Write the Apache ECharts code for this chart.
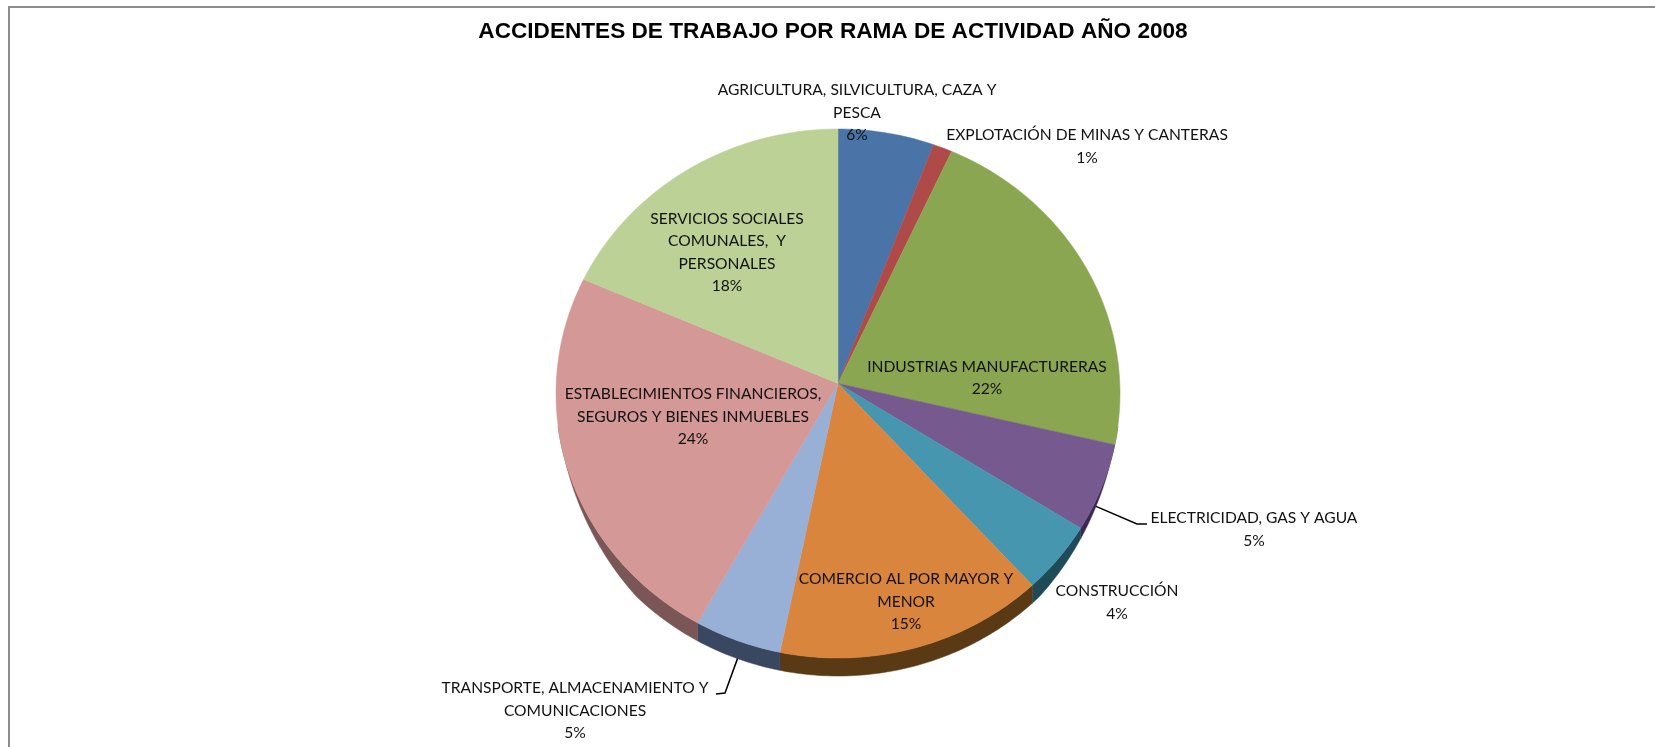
<!DOCTYPE html>
<html lang="es" style="height: 100%">

<head>
  <meta charset="utf-8">
</head>

<body style="height: 100%; margin: 0; background: #fff;">
  <div id="container" style="height: 100%;"></div>

  <script type="text/javascript" src="https://cdn.jsdelivr.net/npm/echarts@6/dist/echarts.min.js"></script>

  <script type="text/javascript">
    var categories = [
      'AGRICULTURA, SILVICULTURA, CAZA Y\nPESCA',
      'EXPLOTACIÓN DE MINAS Y CANTERAS',
      'INDUSTRIAS MANUFACTURERAS',
      'ELECTRICIDAD, GAS Y AGUA',
      'CONSTRUCCIÓN',
      'COMERCIO AL POR MAYOR Y\nMENOR',
      'TRANSPORTE, ALMACENAMIENTO Y\nCOMUNICACIONES',
      'ESTABLECIMIENTOS FINANCIEROS,\nSEGUROS Y BIENES INMUEBLES',
      'SERVICIOS SOCIALES\nCOMUNALES,  Y\nPERSONALES'
    ];
    var shares = [5.5, 1.1, 21.5, 5.4, 4.4, 15.4, 5.0, 23.8, 17.9];

    var faceColors = ['#4a74a8', '#ae4b49', '#8ba651', '#76598f', '#4596ae', '#d9853e', '#98afd6', '#d49897', '#bcd196'];
    var wallColors = ['#2c4565', '#682d2c', '#536331', '#3a2a50', '#1f4a58', '#5a3a14', '#3a4760', '#7a5656', '#70805a'];

    // label centre in page pixels, leader end points where the label sits off the pie
    var labelSpots = [[857, 112.5], [1087, 146.5], [987, 378], [1254, 529.5], [1117, 602.5], [906, 601.5], [575, 710.5], [693, 416.5], [727, 252.5]];
    var leaderEnds = { 3: [[1137, 524], [1147, 524]], 6: [[725, 693], [716, 694]] };
    var leaderAt = { 3: 0.65, 6: 0.5 };

    var wallDepth = 18;
    var apexY = 0.038;

    var dom = document.getElementById('container');
    var myChart = echarts.init(dom, null, {
      renderer: 'canvas',
      useDirtyRect: false
    });

    var starts = [];
    var total = 0;
    shares.forEach(function (v) {
      starts.push(total);
      total += v;
    });

    function arcPoints(api, from, to) {
      var pts = [];
      var n = Math.max(2, Math.ceil((to - from) * 4));
      for (var i = 0; i <= n; i++) {
        var a = (from + (to - from) * i / n) / total * Math.PI * 2;
        var p = api.coord([Math.sin(a), Math.cos(a)]);
        p.push(a);
        pts.push(p);
      }
      return pts;
    }

    // the rim thins out towards the sides of the pie
    function rimDepth(a) {
      var k = (Math.abs(Math.cos(a)) - 0.25) / 0.45;
      return wallDepth * Math.max(0, Math.min(1, k));
    }

    function renderWall(params, api) {
      var from = Math.max(api.value(0), total * 0.27);
      var to = Math.min(api.value(0) + api.value(1), total * 0.73);
      if (to <= from) return null;
      var top = arcPoints(api, from, to);
      var bottom = top.map(function (p) {
        return [p[0], p[1] + rimDepth(p[2])];
      }).reverse();
      return {
        type: 'polygon',
        shape: { points: top.concat(bottom) },
        style: { fill: wallColors[params.dataIndex], stroke: wallColors[params.dataIndex], lineWidth: 0.5 }
      };
    }

    function renderFace(params, api) {
      var from = api.value(0);
      var to = from + api.value(1);
      var pts = arcPoints(api, from, to);
      pts.unshift(api.coord([0, apexY]));
      return {
        type: 'polygon',
        shape: { points: pts },
        style: { fill: faceColors[params.dataIndex], stroke: faceColors[params.dataIndex], lineWidth: 0.5 }
      };
    }

    function renderLabel(params, api) {
      var i = params.dataIndex;
      var from = api.value(0);
      var size = api.value(1);
      var spot = labelSpots[i];
      var children = [{
        type: 'text',
        style: {
          x: spot[0],
          y: spot[1],
          text: categories[i] + '\n' + Math.round(size) + '%',
          align: 'center',
          verticalAlign: 'middle',
          lineHeight: 22.4,
          font: '15.6px Lato',
          fill: '#111'
        }
      }];
      if (leaderEnds[i]) {
        var a = (from + size * leaderAt[i]) / total * Math.PI * 2;
        var rim = api.coord([Math.sin(a), Math.cos(a)]);
        children.push({
          type: 'polyline',
          shape: { points: [[rim[0], rim[1] + rimDepth(a)]].concat(leaderEnds[i]) },
          style: { stroke: '#000', lineWidth: 1.5, fill: null }
        });
      }
      return { type: 'group', children: children };
    }

    var sliceData = shares.map(function (v, i) {
      return [starts[i], v];
    });

    var option = {
      animation: false,
      title: {
        text: 'ACCIDENTES DE TRABAJO POR RAMA DE ACTIVIDAD AÑO 2008',
        left: 828,
        top: 15.5,
        textAlign: 'center',
        textStyle: { fontFamily: 'Liberation Sans', fontWeight: 'bold', fontSize: 22.6, color: '#000' }
      },
      // the frame only shows along the top and left edges
      graphic: [{
        type: 'polyline',
        silent: true,
        shape: { points: [[9, 747], [9, 7], [1655, 7]] },
        style: { fill: null, stroke: '#8c8c8c', lineWidth: 2 }
      }],
      // the grid box is the top ellipse of the tilted pie
      grid: { left: 556, top: 129, width: 564, height: 529 },
      xAxis: { type: 'value', min: -1, max: 1, show: false },
      yAxis: { type: 'value', min: -1, max: 1, show: false },
      series: [
        { type: 'custom', renderItem: renderWall, data: sliceData, clip: false, silent: true, z: 1 },
        { type: 'custom', renderItem: renderFace, data: sliceData, clip: false, silent: true, z: 2 },
        { type: 'custom', renderItem: renderLabel, data: sliceData, clip: false, silent: true, z: 3 }
      ]
    };
    myChart.setOption(option, true);
    window.addEventListener('resize', myChart.resize);
  </script>
</body>

</html>
